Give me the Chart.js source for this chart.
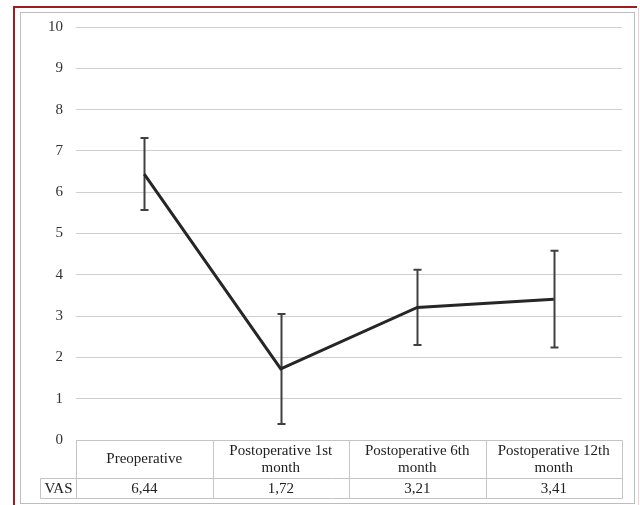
<!DOCTYPE html>
<html>
<head>
<meta charset="utf-8">
<script src="https://cdn.jsdelivr.net/npm/chart.js@4"></script>
<style>
    html, body { margin: 0; padding: 0; background: #fff; }
    #wrap { position: relative; width: 640px; height: 505px; overflow: hidden; }
    #redTop { position: absolute; left: 13px; top: 6px; width: 624px; height: 2px; background: #a01c22; }
    #redLeft { position: absolute; left: 13px; top: 6px; width: 2px; height: 510px; background: #a01c22; }
    #pinkRight { position: absolute; left: 638px; top: 8px; width: 1px; height: 500px; background: #ecd2d2; }
    #grayBox { position: absolute; left: 20px; top: 12px; width: 613px; height: 490px; border: 1px solid #bdbdbd; }
    canvas { position: absolute; left: 0; top: 0; }
</style>
</head>
<body>
<div id="wrap">
    <div id="redTop"></div>
    <div id="redLeft"></div>
    <div id="pinkRight"></div>
    <div id="grayBox"></div>
    <canvas id="vasChart" width="640" height="505"></canvas>
</div>
<script>
    // Chart data
    const categories = ["Preoperative", "Postoperative 1st month", "Postoperative 6th month", "Postoperative 12th month"];
    const seriesName = "VAS";
    const vasMeans = [6.44, 1.72, 3.21, 3.41];
    const vasErrors = [0.87, 1.33, 0.91, 1.17];
    const yTicks = [0, 1, 2, 3, 4, 5, 6, 7, 8, 9, 10];

    const serif = "'Liberation Serif', 'Times New Roman', serif";
    Chart.defaults.font.family = serif;
    Chart.defaults.font.size = 15;

    // Error bars with small caps
    const errorBars = {
        id: "errorBars",
        beforeDatasetsDraw(chart) {
            const ctx = chart.ctx;
            const x = chart.scales.x, y = chart.scales.y;
            ctx.save();
            ctx.strokeStyle = "#404040";
            ctx.lineWidth = 2;
            vasMeans.forEach((v, i) => {
                const px = Math.round(x.getPixelForValue(i)) + 0.5;
                const top = y.getPixelForValue(v + vasErrors[i]);
                const bot = y.getPixelForValue(v - vasErrors[i]);
                ctx.beginPath();
                ctx.moveTo(px, top); ctx.lineTo(px, bot);
                ctx.moveTo(px - 4, top); ctx.lineTo(px + 4, top);
                ctx.moveTo(px - 4, bot); ctx.lineTo(px + 4, bot);
                ctx.stroke();
            });
            ctx.restore();
        }
    };

    // word wrap for table headers
    function wrapText(ctx, text, maxW) {
        const words = text.split(" ");
        const lines = [];
        let cur = "";
        words.forEach(w => {
            const test = cur ? cur + " " + w : w;
            if (cur && ctx.measureText(test).width > maxW) {
                lines.push(cur);
                cur = w;
            } else {
                cur = test;
            }
        });
        if (cur) lines.push(cur);
        return lines;
    }

    // Data table under the plot
    const dataTable = {
        id: "dataTable",
        afterDraw(chart) {
            const ctx = chart.ctx;
            const x = chart.scales.x;
            const area = chart.chartArea;
            const colW = x.getPixelForValue(1) - x.getPixelForValue(0);
            const left = Math.round(area.left) + 0.5;
            const right = Math.round(area.right) + 0.5;
            const top = Math.round(area.bottom) + 0.5;
            const mid = top + 38;
            const bottom = top + 58;
            const labelLeft = 40.5;

            ctx.save();
            ctx.strokeStyle = "#c4c4c4";
            ctx.lineWidth = 1;
            ctx.beginPath();
            ctx.moveTo(left, top); ctx.lineTo(right, top);
            ctx.moveTo(labelLeft, mid); ctx.lineTo(right, mid);
            ctx.moveTo(labelLeft, bottom); ctx.lineTo(right, bottom);
            ctx.moveTo(labelLeft, mid); ctx.lineTo(labelLeft, bottom);
            for (let i = 0; i <= categories.length; i++) {
                const bx = Math.round(x.getPixelForValue(i) - colW / 2) + 0.5;
                ctx.moveTo(bx, top); ctx.lineTo(bx, bottom);
            }
            ctx.stroke();

            ctx.fillStyle = "#222";
            ctx.font = "15px " + serif;
            ctx.textAlign = "center";
            ctx.textBaseline = "middle";
            categories.forEach((c, i) => {
                const cx = x.getPixelForValue(i);
                const lines = wrapText(ctx, c, colW - 10);
                const lh = 17;
                const start = (top + mid) / 2 - (lines.length - 1) * lh / 2;
                lines.forEach((ln, k) => ctx.fillText(ln, cx, start + k * lh));
                ctx.fillText(vasMeans[i].toFixed(2).replace(".", ","), cx, (mid + bottom) / 2 + 1);
            });
            ctx.fillText(seriesName, (labelLeft + left) / 2, (mid + bottom) / 2 + 1);
            ctx.restore();
        }
    };

    new Chart(document.getElementById("vasChart"), {
        type: "line",
        data: {
            labels: categories,
            datasets: [{
                label: seriesName,
                data: vasMeans,
                borderColor: "#262626",
                borderWidth: 3,
                pointRadius: 0,
                tension: 0
            }]
        },
        options: {
            responsive: false,
            animation: false,
            layout: { padding: { left: 0, right: 18, top: 27, bottom: 65 } },
            plugins: {
                legend: { display: false },
                tooltip: { enabled: false }
            },
            scales: {
                x: { display: false, offset: true },
                y: {
                    min: yTicks[0],
                    max: yTicks[yTicks.length - 1],
                    afterFit(scale) { scale.width = 76; },
                    afterBuildTicks(scale) { scale.ticks = yTicks.map(v => ({ value: v })); },
                    ticks: { color: "#333", padding: 13 },
                    grid: { color: "#cfcfcf", drawTicks: false },
                    border: { display: false }
                }
            }
        },
        plugins: [errorBars, dataTable]
    });
</script>
</body>
</html>
